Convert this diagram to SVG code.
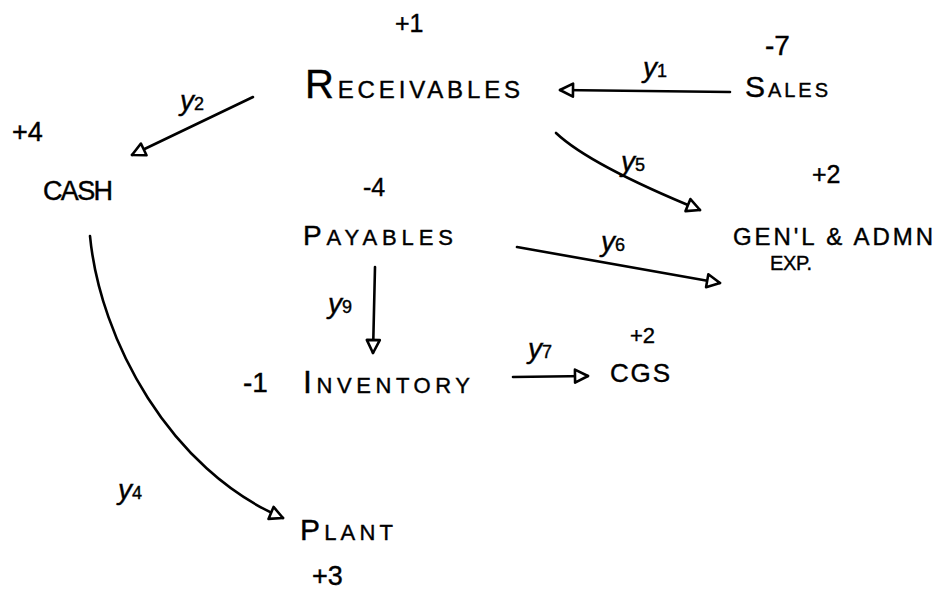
<svg xmlns="http://www.w3.org/2000/svg" width="937" height="593" viewBox="0 0 937 593">
<style>
text{font-family:"Liberation Sans","DejaVu Sans",sans-serif;fill:#000;stroke:#000;stroke-width:0.4}
.v{font-size:25px}
.lbl{font-size:28px;font-style:italic}
.sub{font-size:18px;font-style:normal}
.c{fill:none;stroke:#000;stroke-width:2.6;stroke-linecap:round;marker-end:url(#ah)}
</style>
<defs>
<marker id="ah" markerUnits="userSpaceOnUse" viewBox="0 0 20 20" refX="18" refY="10" markerWidth="20" markerHeight="20" orient="auto">
<path d="M5,3.5 L18,10 L5,16.5 Z" fill="#fff" stroke="#000" stroke-width="2.6" stroke-linejoin="round"/>
</marker>
</defs>
<rect width="937" height="593" fill="#fff"/>
<g id="connectors">
<path class="c" d="M730,92 L560,90"/>
<path class="c" d="M253,97 L132,155"/>
<path class="c" d="M556,133 Q590,165 700,210"/>
<path class="c" d="M517,247 L720,283"/>
<path class="c" d="M375,267 L373,353"/>
<path class="c" d="M513,377 L588,376"/>
<path class="c" d="M90,236 C100,340 170,470 283,518"/>
<text class="lbl" x="643" y="77">y<tspan class="sub">1</tspan></text>
<text class="lbl" x="180" y="110">y<tspan class="sub">2</tspan></text>
<text class="lbl" x="621" y="171">y<tspan class="sub">5</tspan></text>
<text class="lbl" x="601" y="251">y<tspan class="sub">6</tspan></text>
<text class="lbl" x="328" y="313">y<tspan class="sub">9</tspan></text>
<text class="lbl" x="528" y="358">y<tspan class="sub">7</tspan></text>
<text class="lbl" x="118" y="499">y<tspan class="sub">4</tspan></text>
</g>
<g id="receivables">
<text class="v" x="395" y="32">+1</text>
<text x="305" y="98" textLength="215" lengthAdjust="spacing"><tspan font-size="40">R</tspan><tspan font-size="24">ECEIVABLES</tspan></text>
</g>
<g id="sales">
<text x="765" y="55" font-size="28">-7</text>
<text x="745" y="97" textLength="83" lengthAdjust="spacing"><tspan font-size="30">S</tspan><tspan font-size="20">ALES</tspan></text>
</g>
<g id="cash">
<text x="12" y="141" font-size="27">+4</text>
<text x="43" y="200" font-size="27" textLength="70" lengthAdjust="spacing">CASH</text>
</g>
<g id="genl-admin-exp">
<text class="v" x="812" y="183">+2</text>
<text x="733" y="245" font-size="24" textLength="200" lengthAdjust="spacing">GEN'L &amp; ADMN</text>
<text x="770" y="270" font-size="20" textLength="42" lengthAdjust="spacing">EXP.</text>
</g>
<g id="payables">
<text class="v" x="363" y="196">-4</text>
<text x="303" y="245" textLength="150" lengthAdjust="spacing"><tspan font-size="28">P</tspan><tspan font-size="22">AYABLES</tspan></text>
</g>
<g id="inventory">
<text x="243" y="392" font-size="28">-1</text>
<text x="303" y="393" textLength="167" lengthAdjust="spacing"><tspan font-size="32">I</tspan><tspan font-size="22">NVENTORY</tspan></text>
</g>
<g id="cgs">
<text x="630" y="343" font-size="22">+2</text>
<text x="610" y="382" font-size="26" textLength="60" lengthAdjust="spacing">CGS</text>
</g>
<g id="plant">
<text x="300" y="540" textLength="93" lengthAdjust="spacing"><tspan font-size="30">P</tspan><tspan font-size="22">LANT</tspan></text>
<text x="312" y="585" font-size="27">+3</text>
</g>
</svg>
